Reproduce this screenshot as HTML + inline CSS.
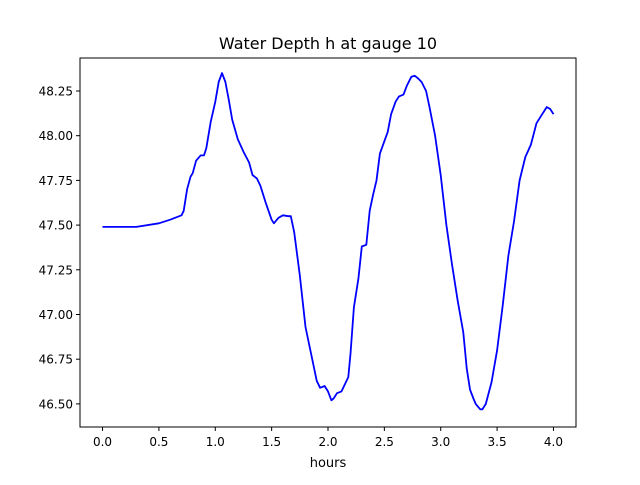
<!DOCTYPE html>
<html><head><meta charset="utf-8"><style>
body{margin:0;background:#fff;font-family:"Liberation Sans","DejaVu Sans",sans-serif;}
svg text{font-family:"DejaVu Sans","Liberation Sans",sans-serif;}
</style></head><body>
<svg id="chart" width="640" height="480" xmlns="http://www.w3.org/2000/svg">
<rect width="640" height="480" fill="#fff"/>
<text x="328" y="49" font-size="16" text-anchor="middle" fill="#000">Water Depth h at gauge 10</text>
<g id="ticks"></g>
<path id="line" fill="none" stroke="#0000ff" stroke-width="1.8" stroke-linejoin="round"/>
<rect x="80" y="58" width="496" height="369" fill="none" stroke="#000" stroke-width="1"/>
<text x="328" y="467" font-size="13" text-anchor="middle">hours</text>
</svg>
<script>
const hours=[0,0.3,0.5,0.6,0.7,0.72,0.75,0.78,0.8,0.83,0.87,0.9,0.92,0.96,1.0,1.03,1.06,1.09,1.12,1.15,1.2,1.25,1.3,1.33,1.37,1.4,1.45,1.5,1.52,1.56,1.6,1.65,1.67,1.7,1.75,1.8,1.85,1.9,1.93,1.97,2.0,2.03,2.05,2.08,2.12,2.15,2.18,2.2,2.23,2.27,2.3,2.34,2.37,2.4,2.43,2.46,2.5,2.53,2.56,2.6,2.63,2.67,2.7,2.74,2.77,2.8,2.83,2.87,2.9,2.95,3.0,3.05,3.1,3.15,3.2,3.23,3.26,3.29,3.31,3.35,3.37,3.4,3.45,3.5,3.55,3.6,3.65,3.7,3.75,3.8,3.85,3.9,3.94,3.97,4.0];
const depth=[47.49,47.49,47.51,47.53,47.555,47.58,47.70,47.77,47.79,47.86,47.89,47.89,47.93,48.08,48.19,48.30,48.35,48.30,48.20,48.09,47.98,47.91,47.85,47.78,47.76,47.72,47.62,47.53,47.51,47.54,47.555,47.55,47.55,47.46,47.22,46.93,46.78,46.63,46.59,46.60,46.57,46.52,46.53,46.56,46.57,46.61,46.65,46.78,47.04,47.20,47.38,47.39,47.58,47.67,47.75,47.90,47.97,48.02,48.12,48.19,48.22,48.23,48.28,48.33,48.335,48.32,48.30,48.25,48.16,48.00,47.78,47.50,47.28,47.08,46.90,46.70,46.58,46.53,46.50,46.47,46.47,46.50,46.62,46.80,47.05,47.33,47.52,47.75,47.88,47.95,48.07,48.12,48.16,48.15,48.12];
const xTicks=["0.0","0.5","1.0","1.5","2.0","2.5","3.0","3.5","4.0"];
const yTicks=["46.50","46.75","47.00","47.25","47.50","47.75","48.00","48.25"];
const X0=80,X1=576,Y0=58,Y1=427,xmin=-0.2,xmax=4.2,ymin=46.3708,ymax=48.4345;
const sx=v=>X0+(v-xmin)/(xmax-xmin)*(X1-X0);
const sy=v=>Y1-(v-ymin)/(ymax-ymin)*(Y1-Y0);
const NS="http://www.w3.org/2000/svg";
const g=document.getElementById('ticks');
xTicks.forEach(t=>{const x=sx(parseFloat(t));
 const l=document.createElementNS(NS,'line');
 
 
 l.setAttribute('x1',x);l.setAttribute('x2',x);l.setAttribute('y1',Y1);l.setAttribute('y2',Y1+4);l.setAttribute('stroke','#000');g.appendChild(l);
 const tx=document.createElementNS(NS,'text');
 
 
 tx.setAttribute('x',x);tx.setAttribute('y',Y1+19);tx.setAttribute('font-size','12');tx.setAttribute('text-anchor','middle');tx.textContent=t;g.appendChild(tx);});
yTicks.forEach(t=>{const y=sy(parseFloat(t));
 const l=document.createElementNS(NS,'line');
 
 
 l.setAttribute('x1',X0-4);l.setAttribute('x2',X0);l.setAttribute('y1',y);l.setAttribute('y2',y);l.setAttribute('stroke','#000');g.appendChild(l);
 const tx=document.createElementNS(NS,'text');
 
 
 tx.setAttribute('x',X0-7);tx.setAttribute('y',y+4.5);tx.setAttribute('font-size','12');tx.setAttribute('text-anchor','end');tx.textContent=t;g.appendChild(tx);});
document.getElementById('line').setAttribute('d',hours.map((h,i)=>(i?'L':'M')+sx(h).toFixed(1)+','+sy(depth[i]).toFixed(1)).join(''));
</script>
</body></html>
